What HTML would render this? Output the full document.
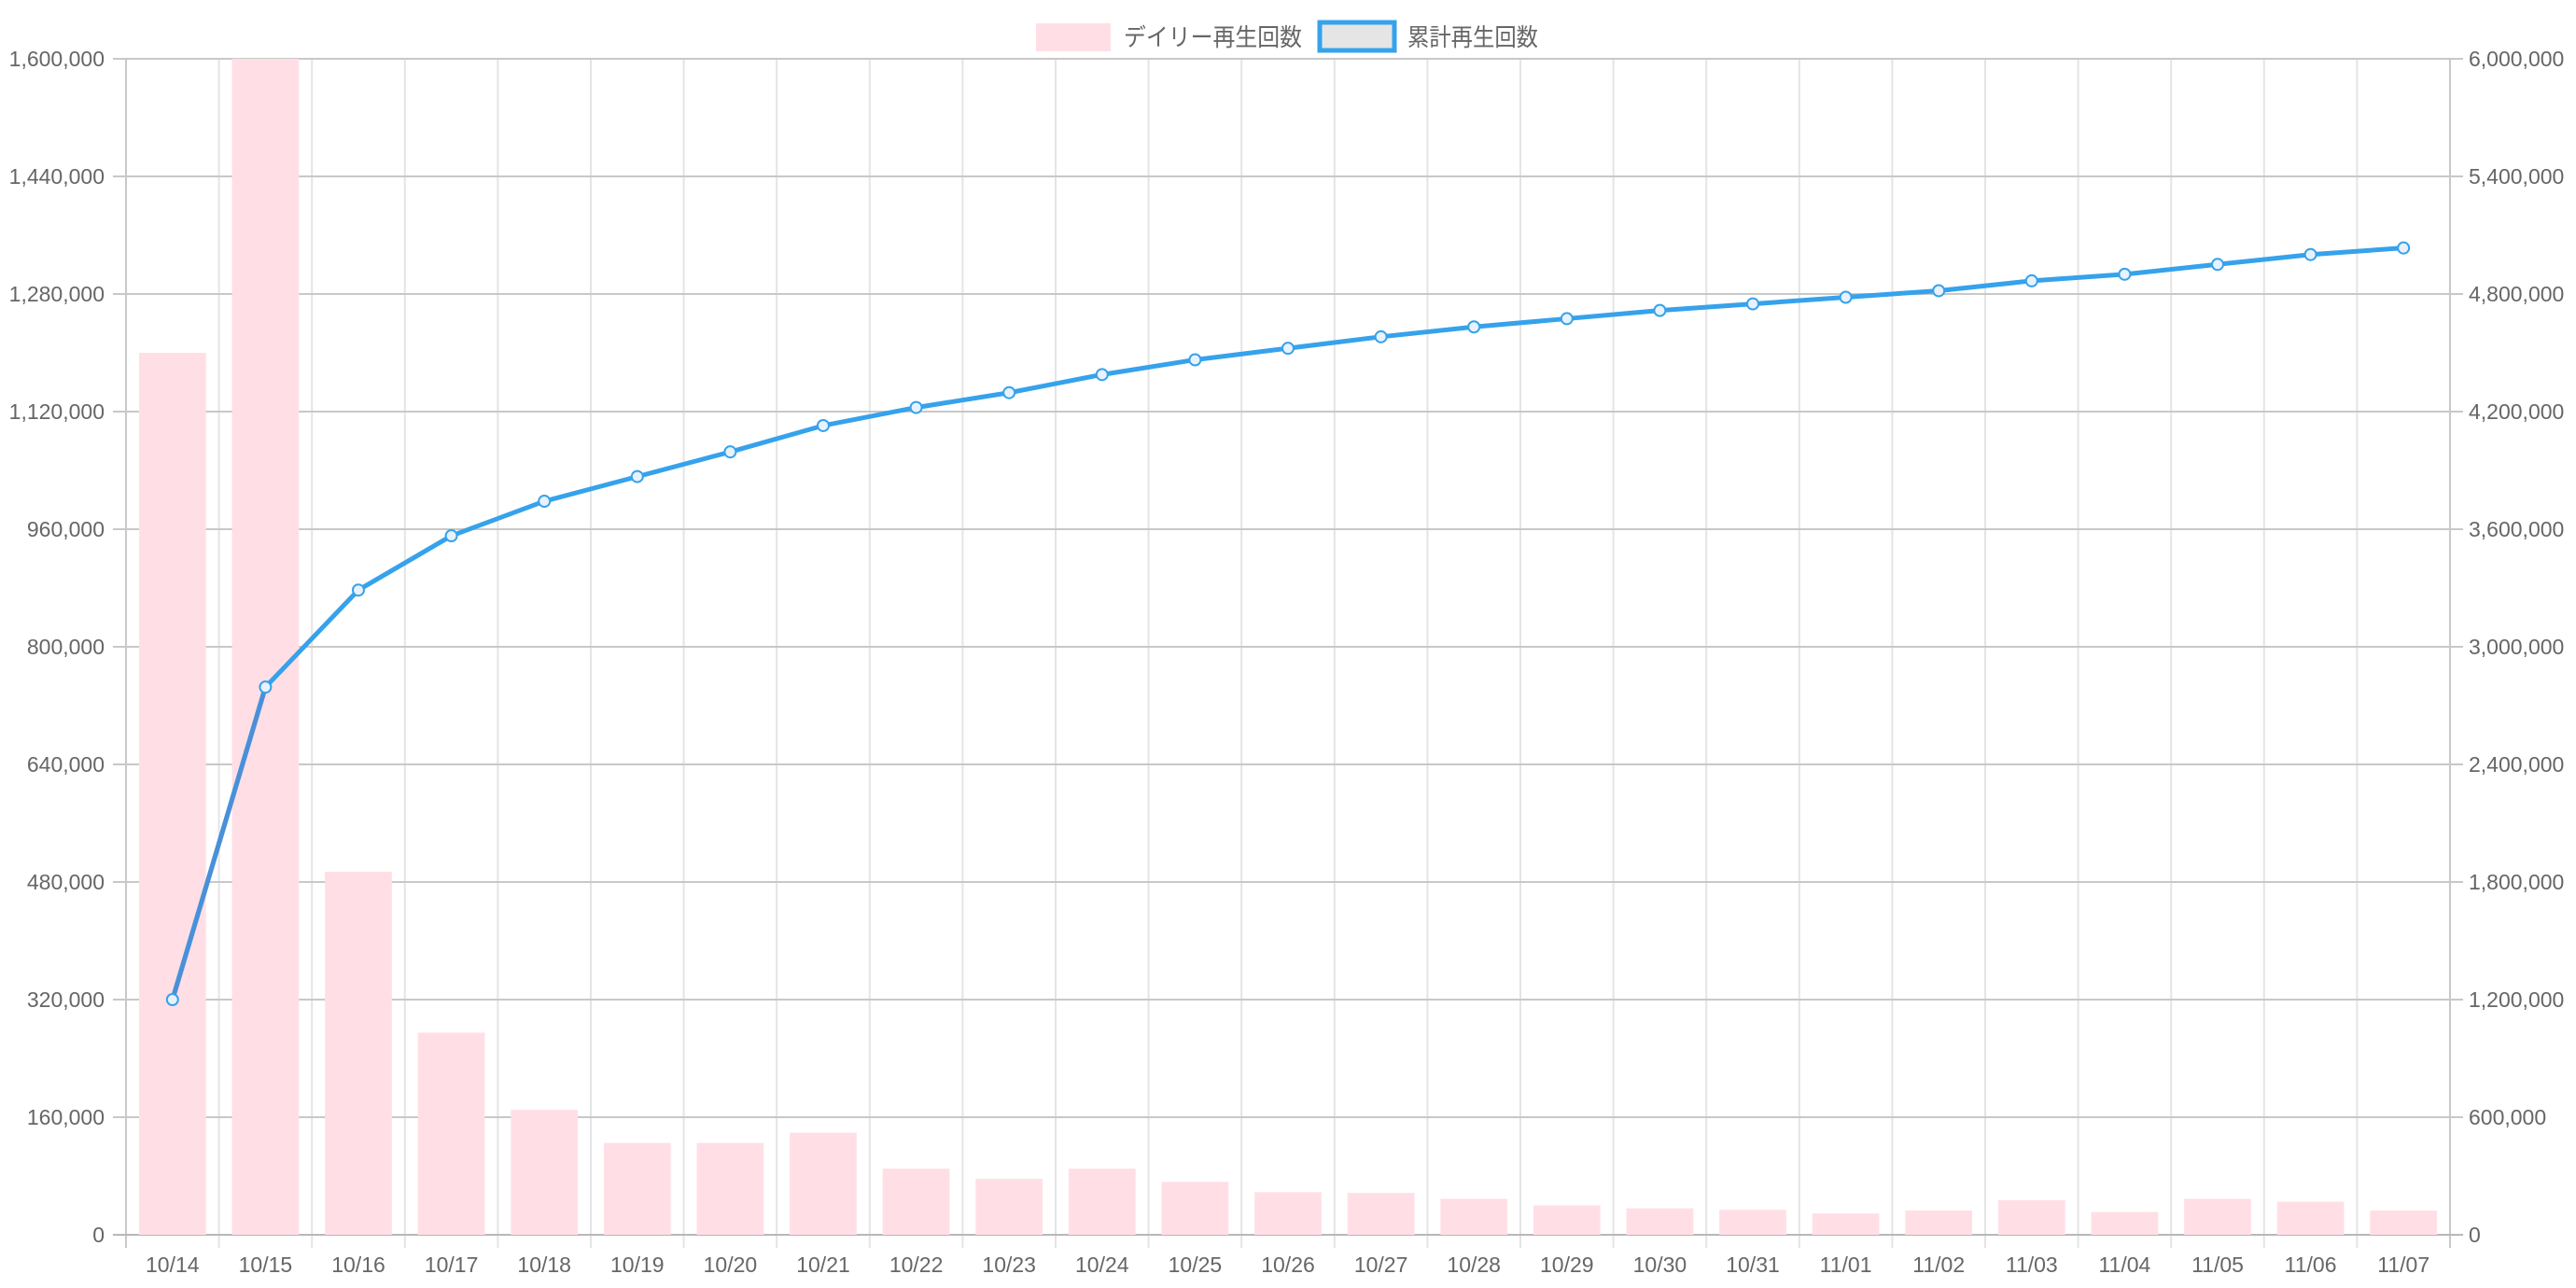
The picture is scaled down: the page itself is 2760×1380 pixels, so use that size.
<!DOCTYPE html>
<html><head><meta charset="utf-8"><style>
html,body{margin:0;padding:0;background:#fff;width:2760px;height:1380px;overflow:hidden}
svg{display:block;font-family:"Liberation Sans","Noto Sans CJK JP",sans-serif}
</style></head><body>
<svg id="c" width="2760" height="1380" xmlns="http://www.w3.org/2000/svg"></svg>
<script>
const L=135,R=2625,T=63,B=1323,W=R-L,H=B-T,N=25;
const labels=["10/14","10/15","10/16","10/17","10/18","10/19","10/20","10/21","10/22","10/23","10/24","10/25","10/26","10/27","10/28","10/29","10/30","10/31","11/01","11/02","11/03","11/04","11/05","11/06","11/07"];
const bars=[1200000,1650000,494000,275000,170000,125000,125000,139000,90000,76000,90000,72000,58000,57000,49000,40000,36000,34000,29000,33000,47000,31000,49000,45000,33000];
const disp=[608,418,359,326,305,290,275,259,248,239,228,219,212,205,199,194,189,185,181,177,171,167,161,155,151];
let s='';
const cw=W/N;
for(let i=0;i<=N;i++){const x=L+i*cw;s+=`<line x1="${x}" y1="${T}" x2="${x}" y2="${B+14}" stroke="${i==0||i==N?'#c8c8c8':'#e4e4e4'}" stroke-width="2"/>`;}
for(let j=0;j<=10;j++){const y=B-j*H/10;
s+=`<line x1="${L-14}" y1="${y}" x2="${R+14}" y2="${y}" stroke="${j==0?'#b8b8b8':'#c8c8c8'}" stroke-width="2"/>`;
s+=`<text x="${112}" y="${y+8}" font-size="23" fill="#666" text-anchor="end">${(j*160000).toLocaleString('en-US')}</text>`;
s+=`<text x="${2645}" y="${y+8}" font-size="23" fill="#666">${(j*600000).toLocaleString('en-US')}</text>`;}
for(let i=0;i<N;i++){const v=Math.min(bars[i],1600000);const h=v/1600000*H;const bw=cw*0.72;const x=L+i*cw+(cw-bw)/2;
s+=`<rect x="${x}" y="${B-h}" width="${bw}" height="${h}" fill="#ffdfe5"/>`;
s+=`<text x="${L+i*cw+cw/2}" y="1363" font-size="23" fill="#666" text-anchor="middle">${labels[i]}</text>`;}
const pts=disp.map((d,i)=>[L+i*cw+cw/2, T+(d-36)*H/715]);
s+=`<polyline points="${pts.map(p=>p.join(',')).join(' ')}" fill="none" stroke="#36a2eb" stroke-width="5" stroke-linejoin="round"/>`;
s+=`<line x1="${pts[0][0]}" y1="${pts[0][1]}" x2="${pts[1][0]}" y2="${pts[1][1]}" stroke="#4a90d9" stroke-width="5"/>`;
pts.forEach(p=>{s+=`<circle cx="${p[0]}" cy="${p[1]}" r="6" fill="#e8f2fc" stroke="#36a2eb" stroke-width="2"/>`;});
s+=`<rect x="1110" y="25" width="80" height="30" fill="#ffdfe5"/>`;
s+=`<text x="1204" y="49" font-size="26" fill="#666" textLength="191" lengthAdjust="spacingAndGlyphs">デイリー再生回数</text>`;
s+=`<rect x="1414" y="24" width="80" height="30" fill="#e5e5e5" stroke="#36a2eb" stroke-width="5"/>`;
s+=`<text x="1508" y="49" font-size="26" fill="#666" textLength="140" lengthAdjust="spacingAndGlyphs">累計再生回数</text>`;
document.getElementById('c').innerHTML=s;
</script>
</body></html>
